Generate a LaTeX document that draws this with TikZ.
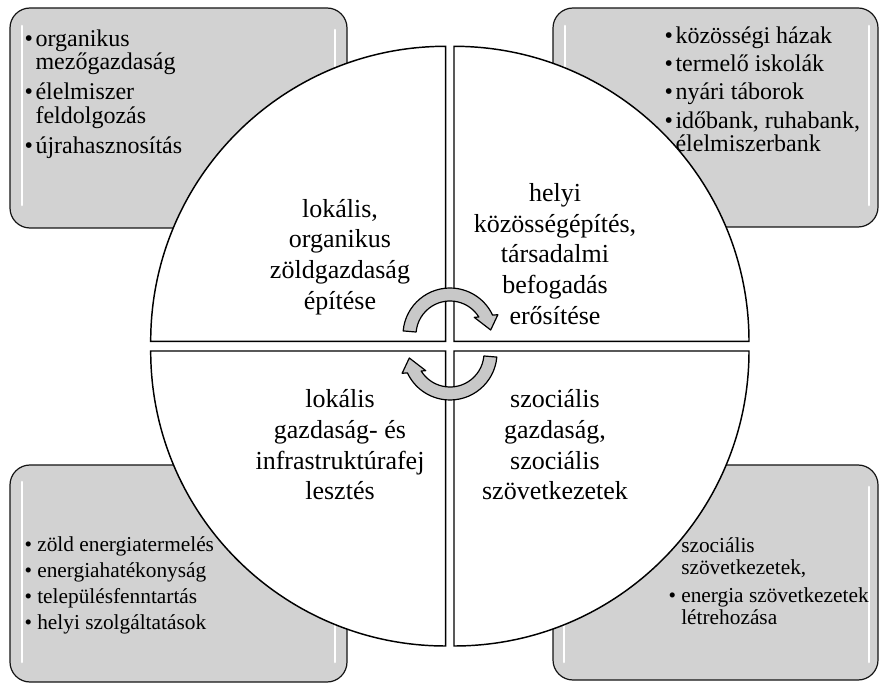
\documentclass[tikz,border=0pt]{standalone}
\usepackage{fontspec}
\setmainfont{Liberation Serif}

\tikzset{every picture/.style={line width=0.75pt}}
\tikzset{
  infobox/.style={draw={rgb, 255:red, 20; green, 20; blue, 20}, fill={rgb, 255:red, 210; green, 210; blue, 210}, line width=0.9pt, rounded corners=15pt},
  gloss/.style={draw=white, line width=2pt, line cap=round},
  quad/.style={draw=black, fill=white, line width=1.1pt},
  quadtext/.style={anchor=center, inner sep=0.75pt, align=center, font=\fontsize{19.5}{23}\selectfont},
  toplist/.style={anchor=north west, inner sep=0pt, font=\fontsize{18}{17.5}\selectfont},
  botlist/.style={anchor=north west, inner sep=0pt, font=\fontsize{16}{16.5}\selectfont},
  turnarrow/.style={fill={rgb, 255:red, 200; green, 200; blue, 200}, line width=0.9pt, line join=round}
}

\begin{document}
\begin{tikzpicture}[x=0.75pt,y=0.75pt,yscale=-1,xscale=1]
    \useasboundingbox (0,0) rectangle (879,684);

    %Rounded Rect [top left]
    \draw [infobox] (10,8) rectangle (347,228) ;
    \draw [gloss] (22,26) -- (22,205) ;
    \draw [gloss] (335,30) -- (335,205) ;
    %Rounded Rect [top right]
    \draw [infobox] (553,8) rectangle (878,227) ;
    \draw [gloss] (565,26) -- (565,205) ;
    \draw [gloss] (869,26) -- (869,205) ;
    %Rounded Rect [bottom left]
    \draw [infobox] (10,465) rectangle (347,682) ;
    \draw [gloss] (22,482) -- (22,662) ;
    \draw [gloss] (335,485) -- (335,662) ;
    %Rounded Rect [bottom right]
    \draw [infobox] (553,465) rectangle (878,680) ;
    \draw [gloss] (564,505) -- (564,662) ;
    \draw [gloss] (869,487) -- (869,662) ;

    % Text Node
    \node [toplist] (orglist) at (24,29) {\begin{tabular}{@{}l@{\hspace{2pt}}l@{}}
      \textbullet & organikus\\ & mezőgazdaság\\[4.5pt]
      \textbullet & élelmiszer\\ & feldolgozás\\[4.5pt]
      \textbullet & újrahasznosítás
    \end{tabular}};
    % Text Node
    \node [toplist] (kozlist) at (664,26) {\begin{tabular}{@{}l@{\hspace{2pt}}l@{}}
      \textbullet & közösségi házak\\[3.5pt]
      \textbullet & termelő iskolák\\[3.5pt]
      \textbullet & nyári táborok\\[3.5pt]
      \textbullet & időbank, ruhabank,\\ & élelmiszerbank
    \end{tabular}};
    % Text Node
    \node [botlist] (enlist) at (24,536) {\begin{tabular}{@{}l@{\hspace{4pt}}l@{}}
      \textbullet & zöld energiatermelés\\[3pt]
      \textbullet & energiahatékonyság\\[3pt]
      \textbullet & településfenntartás\\[3pt]
      \textbullet & helyi szolgáltatások
    \end{tabular}};
    % Text Node
    \node [botlist] (szovlist) at (668,537) {\begin{tabular}{@{}l@{\hspace{4pt}}l@{}}
      \textbullet & szociális\\ & szövetkezetek,\\[4pt]
      \textbullet & energia szövetkezetek\\ & létrehozása
    \end{tabular}};

    %Shape: Circle quarter [top left]
    \draw [quad] (445.7,341.3) -- ++(-295,0) arc[start angle=180, end angle=270, radius=295] -- cycle ;
    %Shape: Circle quarter [top right]
    \draw [quad] (454,341.3) -- ++(0,-295) arc[start angle=270, end angle=360, radius=295] -- cycle ;
    %Shape: Circle quarter [bottom right]
    \draw [quad] (454,351) -- ++(295,0) arc[start angle=0, end angle=90, radius=295] -- cycle ;
    %Shape: Circle quarter [bottom left]
    \draw [quad] (445.7,351) -- ++(0,295) arc[start angle=90, end angle=180, radius=295] -- cycle ;

    % Text Node
    \node [quadtext] (zoldq) at (340,257) {lokális,\\organikus\\zöldgazdaság\\építése};
    % Text Node
    \node [quadtext] (kozq) at (555,254) {helyi\\közösségépítés,\\társadalmi\\befogadás\\erősítése};
    % Text Node
    \node [quadtext] (infraq) at (340,445) {lokális\\gazdaság- és\\infrastruktúrafej\\lesztés};
    % Text Node
    \node [quadtext] (szocq) at (555,445) {szociális\\gazdaság,\\szociális\\szövetkezetek};

    %Curve Arrow [top]
    \begin{scope}[shift={(450,335)}]
    \draw [turnarrow] (185:47) arc[start angle=185, end angle=335, radius=47] -- (337:52) -- (353:41) -- (324:30) -- (328:34) arc[start angle=328, end angle=185, radius=34] -- cycle ;
    \end{scope}
    %Curve Arrow [bottom]
    \begin{scope}[shift={(450,353)}]
    \draw [turnarrow] (5:47) arc[start angle=5, end angle=155, radius=47] -- (157:52) -- (173:41) -- (144:30) -- (148:34) arc[start angle=148, end angle=5, radius=34] -- cycle ;
    \end{scope}

\end{tikzpicture}
\end{document}
